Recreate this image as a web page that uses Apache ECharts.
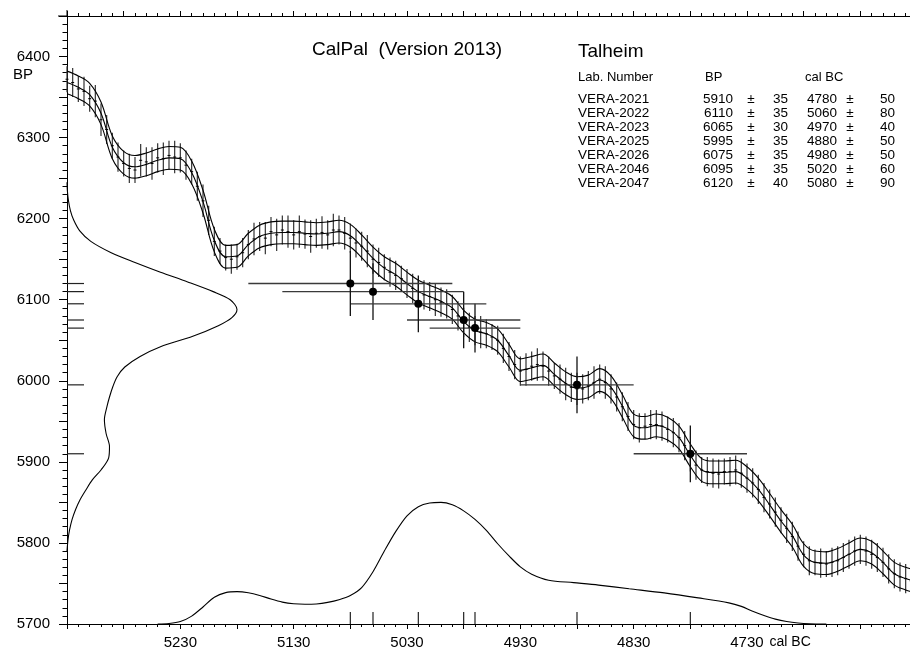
<!DOCTYPE html>
<html>
<head>
<meta charset="utf-8">
<script src="https://cdn.jsdelivr.net/npm/echarts@6/dist/echarts.min.js"></script>
<style>
  html, body { margin: 0; padding: 0; background: #fff; overflow: hidden; }
  #chart { width: 920px; height: 652px; }
</style>
</head>
<body>
<div id="chart"></div>
<script>
// ---- Samples (Talheim) ----
const labNumbers   = ['VERA-2021', 'VERA-2022', 'VERA-2023', 'VERA-2025', 'VERA-2026', 'VERA-2046', 'VERA-2047'];
const sampleBP     = [5910, 6110, 6065, 5995, 6075, 6095, 6120];
const sampleBPErr  = [35, 35, 30, 35, 35, 35, 40];
const sampleCal    = [4780, 5060, 4970, 4880, 4980, 5020, 5080];
const sampleCalErr = [50, 80, 40, 50, 50, 60, 90];

// ---- Calibration curve (cal BC -> 14C BP), with 1-sigma envelope ----
const curveYears = [5330, 5320, 5310, 5300, 5290, 5280, 5270, 5260, 5250, 5240,
                    5230, 5220, 5210, 5200, 5190, 5180, 5170, 5160, 5150, 5140,
                    5130, 5120, 5110, 5100, 5090, 5080, 5070, 5060, 5050, 5040,
                    5030, 5020, 5010, 5000, 4990, 4980, 4970, 4960, 4950, 4940,
                    4930, 4920, 4910, 4900, 4890, 4880, 4870, 4860, 4850, 4840,
                    4830, 4820, 4810, 4800, 4790, 4780, 4770, 4760, 4750, 4740,
                    4730, 4720, 4710, 4700, 4690, 4680, 4670, 4660, 4650, 4640,
                    4630, 4620, 4610, 4600, 4590, 4580];
const curveBP    = [6368, 6362, 6353, 6330, 6288, 6269, 6264, 6267, 6272, 6275,
                    6274, 6257, 6221, 6173, 6153, 6154, 6168, 6178, 6182, 6183,
                    6183, 6182, 6181, 6182, 6184, 6179, 6166, 6151, 6139, 6131,
                    6120, 6110, 6104, 6098, 6090, 6073, 6062, 6058, 6050, 6031,
                    6013, 6016, 6019, 6008, 5997, 5991, 5993, 6001, 5992, 5969,
                    5945, 5942, 5945, 5941, 5930, 5908, 5890, 5887, 5887, 5888,
                    5880, 5866, 5847, 5827, 5809, 5785, 5776, 5775, 5779, 5786,
                    5792, 5788, 5776, 5762, 5756, 5752];
const curveSigma = 14;

// ---- Raw calibration data (5-year steps) with 1-sigma errors ----
const rawYears = [5330, 5325, 5320, 5315, 5310, 5305, 5300, 5295, 5290, 5285,
                  5280, 5275, 5270, 5265, 5260, 5255, 5250, 5245, 5240, 5235,
                  5230, 5225, 5220, 5215, 5210, 5205, 5200, 5195, 5190, 5185,
                  5180, 5175, 5170, 5165, 5160, 5155, 5150, 5145, 5140, 5135,
                  5130, 5125, 5120, 5115, 5110, 5105, 5100, 5095, 5090, 5085,
                  5080, 5075, 5070, 5065, 5060, 5055, 5050, 5045, 5040, 5035,
                  5030, 5025, 5020, 5015, 5010, 5005, 5000, 4995, 4990, 4985,
                  4980, 4975, 4970, 4965, 4960, 4955, 4950, 4945, 4940, 4935,
                  4930, 4925, 4920, 4915, 4910, 4905, 4900, 4895, 4890, 4885,
                  4880, 4875, 4870, 4865, 4860, 4855, 4850, 4845, 4840, 4835,
                  4830, 4825, 4820, 4815, 4810, 4805, 4800, 4795, 4790, 4785,
                  4780, 4775, 4770, 4765, 4760, 4755, 4750, 4745, 4740, 4735,
                  4730, 4725, 4720, 4715, 4710, 4705, 4700, 4695, 4690, 4685,
                  4680, 4675, 4670, 4665, 4660, 4655, 4650, 4645, 4640, 4635,
                  4630, 4625, 4620, 4615, 4610, 4605, 4600, 4595, 4590, 4585,
                  4580];
const rawBP = [6372, 6368, 6360, 6357, 6348, 6345, 6322, 6310, 6290, 6276,
               6268, 6262, 6260, 6272, 6270, 6268, 6275, 6274, 6278, 6276,
               6275, 6266, 6258, 6240, 6222, 6198, 6172, 6160, 6152, 6150,
               6153, 6158, 6168, 6175, 6178, 6176, 6184, 6180, 6186, 6184,
               6180, 6184, 6181, 6178, 6182, 6183, 6180, 6186, 6186, 6182,
               6176, 6170, 6166, 6160, 6150, 6146, 6140, 6134, 6130, 6126,
               6120, 6114, 6110, 6106, 6104, 6100, 6097, 6095, 6088, 6080,
               6072, 6066, 6062, 6060, 6058, 6054, 6050, 6040, 6030, 6020,
               6012, 6014, 6018, 6020, 6018, 6012, 6006, 6002, 5996, 5992,
               5990, 5990, 5994, 5998, 6002, 5998, 5990, 5980, 5968, 5956,
               5946, 5942, 5944, 5946, 5946, 5944, 5940, 5936, 5930, 5920,
               5906, 5896, 5890, 5888, 5886, 5885, 5888, 5888, 5890, 5886,
               5880, 5874, 5866, 5856, 5848, 5838, 5828, 5818, 5808, 5796,
               5786, 5778, 5776, 5775, 5774, 5776, 5778, 5782, 5786, 5790,
               5792, 5790, 5786, 5782, 5776, 5768, 5762, 5758, 5756, 5753,
               5752];
const rawErr = [16, 18, 16, 18, 16, 20, 20, 18, 16, 18,
                16, 18, 16, 20, 18, 20, 18, 20, 18, 20,
                18, 18, 16, 18, 20, 18, 18, 16, 16, 18,
                16, 18, 18, 20, 18, 20, 18, 20, 18, 20,
                18, 20, 18, 20, 18, 20, 18, 20, 18, 20,
                18, 18, 18, 20, 18, 18, 16, 18, 18, 16,
                18, 18, 16, 18, 18, 20, 18, 18, 18, 18,
                18, 18, 18, 20, 18, 16, 18, 18, 18, 18,
                18, 20, 18, 20, 18, 18, 16, 18, 20, 18,
                20, 18, 18, 20, 18, 20, 18, 18, 18, 18,
                18, 18, 16, 18, 18, 18, 16, 18, 18, 18,
                18, 18, 16, 18, 18, 18, 16, 18, 18, 18,
                18, 18, 18, 18, 18, 18, 16, 18, 18, 18,
                16, 18, 16, 18, 16, 18, 18, 18, 18, 18,
                18, 18, 18, 18, 18, 18, 18, 18, 18, 18,
                18];

// ---- Summed 14C probability (BP, relative density) ----
const bpDensBP  = [6245, 6235, 6223, 6210, 6198, 6185, 6172, 6158, 6146, 6134, 6122, 6110, 6100,
                   6088, 6078, 6068, 6055, 6042, 6030, 6017, 6005, 5993, 5980, 5968, 5952, 5935,
                   5919, 5905, 5890, 5878, 5865, 5853, 5841, 5829, 5816, 5804, 5790];
const bpDensVal = [0, 0.002, 0.008, 0.02, 0.04, 0.075, 0.14, 0.26, 0.4, 0.55, 0.71, 0.86, 0.96,
                   1.0, 0.97, 0.89, 0.74, 0.55, 0.43, 0.34, 0.295, 0.27, 0.25, 0.235, 0.22, 0.23,
                   0.25, 0.245, 0.2, 0.15, 0.11, 0.076, 0.05, 0.03, 0.015, 0.006, 0];

// ---- Summed calibrated probability (cal BC, relative density) ----
const calDensYear = [5250, 5240, 5230, 5220, 5210, 5200, 5190, 5180, 5170, 5160, 5150, 5140, 5130, 5120,
                     5110, 5100, 5090, 5080, 5070, 5060, 5050, 5040, 5030, 5020, 5010, 5000, 4990, 4980,
                     4970, 4960, 4950, 4940, 4930, 4920, 4905, 4883, 4861, 4834, 4803, 4773, 4746, 4735,
                     4725, 4715, 4705, 4695, 4685, 4675, 4660];
const calDensVal  = [0, 0.004, 0.02, 0.065, 0.14, 0.22, 0.258, 0.266, 0.257, 0.235, 0.205, 0.18, 0.166, 0.162,
                     0.165, 0.178, 0.2, 0.235, 0.3, 0.43, 0.6, 0.76, 0.89, 0.965, 0.995, 1.0, 0.98, 0.93,
                     0.86, 0.77, 0.66, 0.56, 0.47, 0.41, 0.36, 0.34, 0.32, 0.29, 0.256, 0.215, 0.174, 0.145,
                     0.105, 0.07, 0.04, 0.02, 0.008, 0.002, 0];

// ---- Axis labels ----
const xLabelValues = [5230, 5130, 5030, 4930, 4830, 4730];
const yLabelValues = [5700, 5800, 5900, 6000, 6100, 6200, 6300, 6400];

const FONT = '"Liberation Sans", Arial, sans-serif';
const INK = '#000';

const chart = echarts.init(document.getElementById('chart'), null, { renderer: 'canvas' });

const upper = curveYears.map((y, i) => [y, curveBP[i] + curveSigma]);
const mid   = curveYears.map((y, i) => [y, curveBP[i]]);
const lower = curveYears.map((y, i) => [y, curveBP[i] - curveSigma]);

const curveLine = (data) => ({
  type: 'line', xAxisIndex: 0, yAxisIndex: 0, data,
  smooth: 0.35, showSymbol: false, silent: true, clip: false, z: 4,
  lineStyle: { color: '#000', width: 1.1 }
});

// Table text (header + rows)
const tableTexts = [];
const rowTop = 99, rowStep = 14.1;
const cell = (x, y, text, align, size) => ({
  type: 'text', x, y,
  style: { text, fill: INK, font: `${size || 13.5}px ${FONT}`, textAlign: align || 'left', textVerticalAlign: 'middle' }
});
tableTexts.push(cell(578, 77, 'Lab. Number', 'left', 13));
tableTexts.push(cell(705, 77, 'BP', 'left', 13));
tableTexts.push(cell(805, 77, 'cal BC', 'left', 13));
labNumbers.forEach((lab, i) => {
  const y = rowTop + i * rowStep;
  tableTexts.push(cell(578, y, lab));
  tableTexts.push(cell(733, y, String(sampleBP[i]), 'right'));
  tableTexts.push(cell(751, y, '±', 'center'));
  tableTexts.push(cell(788, y, String(sampleBPErr[i]), 'right'));
  tableTexts.push(cell(837, y, String(sampleCal[i]), 'right'));
  tableTexts.push(cell(850, y, '±', 'center'));
  tableTexts.push(cell(895, y, String(sampleCalErr[i]), 'right'));
});

const option = {
  backgroundColor: '#fff',
  animation: false,
  textStyle: { fontFamily: FONT },
  grid: { left: 67, right: 1, top: 16, bottom: 28, containLabel: false },
  xAxis: [
    {
      type: 'value', position: 'bottom', inverse: true, min: 4580, max: 5330, interval: 50,
      axisLine: { onZero: false, lineStyle: { color: INK, width: 1 } },
      axisTick: { length: 5, lineStyle: { color: INK, width: 1 } },
      minorTick: { show: true, splitNumber: 5, length: 3, lineStyle: { color: INK, width: 1 } },
      splitLine: { show: false },
      axisLabel: {
        margin: 11, color: INK, fontSize: 15, fontFamily: FONT,
        formatter: (v) => {
          if (xLabelValues.indexOf(v) < 0) return '';
          return v === 4730 ? '{p|}{a|' + v + '}{b|cal BC}' : '{a|' + v + '}';
        },
        rich: {
          p: { width: 47 },
          a: { fontSize: 15, color: INK, fontFamily: FONT },
          b: { fontSize: 14, color: INK, fontFamily: FONT, padding: [0, 0, 0, 6] }
        }
      }
    },
    {
      type: 'value', position: 'top', inverse: true, min: 4580, max: 5330, interval: 50,
      axisLine: { onZero: false, lineStyle: { color: INK, width: 1 } },
      axisTick: { length: 5, lineStyle: { color: INK, width: 1 } },
      minorTick: { show: true, splitNumber: 5, length: 3, lineStyle: { color: INK, width: 1 } },
      splitLine: { show: false },
      axisLabel: { show: false }
    },
    { type: 'value', show: false, min: 0, max: 5, axisLine: { onZero: false } }
  ],
  yAxis: [
    {
      type: 'value', position: 'left', min: 5700, max: 6450, interval: 50,
      axisLine: { onZero: false, lineStyle: { color: INK, width: 1 } },
      axisTick: { length: 8, lineStyle: { color: INK, width: 1 } },
      minorTick: { show: true, splitNumber: 5, length: 4.5, lineStyle: { color: INK, width: 1 } },
      splitLine: { show: false },
      axisLabel: {
        margin: 17, color: INK, fontSize: 15, fontFamily: FONT,
        formatter: (v) => {
          if (yLabelValues.indexOf(v) < 0) return '';
          return v === 6400 ? '{p|}\n{a|' + v + '}\n{b|BP}' : '{a|' + v + '}';
        },
        rich: {
          p: { height: 18, lineHeight: 18 },
          a: { fontSize: 15, lineHeight: 18, color: INK, fontFamily: FONT },
          b: { fontSize: 15, lineHeight: 18, color: INK, fontFamily: FONT, width: 37, align: 'left' }
        }
      }
    },
    { type: 'value', show: false, min: 0, max: 5, axisLine: { onZero: false } }
  ],
  graphic: [
    // small overhangs of the frame lines at the top-left corner
    { type: 'line', shape: { x1: 58, y1: 16, x2: 67, y2: 16 }, style: { stroke: INK, lineWidth: 1 } },
    { type: 'line', shape: { x1: 67, y1: 10, x2: 67, y2: 16 }, style: { stroke: INK, lineWidth: 1 } },
    { type: 'text', x: 312, y: 50, style: { text: 'CalPal  (Version 2013)', fill: INK, font: `19px ${FONT}`, textVerticalAlign: 'middle' } },
    { type: 'text', x: 578, y: 52, style: { text: 'Talheim', fill: INK, font: `19px ${FONT}`, textVerticalAlign: 'middle' } }
  ].concat(tableTexts),
  series: [
    // raw calibration measurements
    {
      type: 'custom', xAxisIndex: 0, yAxisIndex: 0, z: 2, silent: true,
      data: rawYears.map((y, i) => [y, rawBP[i], rawErr[i]]),
      encode: { x: 0, y: 1 },
      renderItem: (params, api) => {
        const c = api.coord([api.value(0), api.value(1)]);
        const t = api.coord([api.value(0), api.value(1) + api.value(2)]);
        const b = api.coord([api.value(0), api.value(1) - api.value(2)]);
        return {
          type: 'group', children: [
            { type: 'line', shape: { x1: c[0], y1: t[1], x2: c[0], y2: b[1] }, style: { stroke: '#333', lineWidth: 1.2 } },
            { type: 'line', shape: { x1: c[0] - 1.5, y1: c[1], x2: c[0] + 1.5, y2: c[1] }, style: { stroke: '#000', lineWidth: 1 } }
          ]
        };
      }
    },
    curveLine(upper),
    curveLine(mid),
    curveLine(lower),
    // summed BP probability along the left axis
    {
      type: 'line', xAxisIndex: 2, yAxisIndex: 0, smooth: 0.3, showSymbol: false, silent: true, z: 3,
      data: bpDensBP.map((b, i) => [bpDensVal[i], b]),
      lineStyle: { color: '#000', width: 1.1 }
    },
    // summed calibrated probability along the bottom axis
    {
      type: 'line', xAxisIndex: 0, yAxisIndex: 1, smooth: 0.3, showSymbol: false, silent: true, z: 3,
      data: calDensYear.map((c, i) => [c, calDensVal[i]]),
      lineStyle: { color: '#000', width: 1.1 }
    },
    // sample BP markers on the left axis
    {
      type: 'custom', xAxisIndex: 0, yAxisIndex: 0, z: 5, silent: true,
      data: sampleBP.map((b, i) => [sampleCal[i], b]),
      encode: { x: 0, y: 1 },
      renderItem: (params, api) => {
        const p = api.coord([api.value(0), api.value(1)]);
        const x0 = params.coordSys.x;
        return { type: 'line', shape: { x1: x0, y1: p[1], x2: x0 + 17, y2: p[1] }, style: { stroke: '#222', lineWidth: 1.2 } };
      }
    },
    // sample cal markers on the bottom axis
    {
      type: 'custom', xAxisIndex: 0, yAxisIndex: 0, z: 5, silent: true,
      data: sampleCal.map((c, i) => [c, sampleBP[i]]),
      encode: { x: 0, y: 1 },
      renderItem: (params, api) => {
        const p = api.coord([api.value(0), api.value(1)]);
        const y0 = params.coordSys.y + params.coordSys.height;
        return { type: 'line', shape: { x1: p[0], y1: y0, x2: p[0], y2: y0 - 12 }, style: { stroke: '#222', lineWidth: 1.2 } };
      }
    },
    // samples: cal and BP 1-sigma ranges
    {
      type: 'custom', xAxisIndex: 0, yAxisIndex: 0, z: 6, silent: true,
      data: sampleCal.map((c, i) => [c, sampleBP[i], sampleCalErr[i], sampleBPErr[i]]),
      encode: { x: 0, y: 1 },
      renderItem: (params, api) => {
        const c = api.value(0), b = api.value(1), ce = api.value(2), be = api.value(3);
        const p = api.coord([c, b]);
        const l = api.coord([c + ce, b]);
        const r = api.coord([c - ce, b]);
        const t = api.coord([c, b + be]);
        const d = api.coord([c, b - be]);
        return {
          type: 'group', children: [
            { type: 'line', shape: { x1: l[0], y1: p[1], x2: r[0], y2: p[1] }, style: { stroke: '#3a3a3a', lineWidth: 1.3 } },
            { type: 'line', shape: { x1: p[0], y1: t[1], x2: p[0], y2: d[1] }, style: { stroke: '#111', lineWidth: 1.3 } },
            { type: 'circle', shape: { cx: p[0], cy: p[1], r: 4 }, style: { fill: '#000' } }
          ]
        };
      }
    }
  ]
};

chart.setOption(option);
</script>
</body>
</html>
